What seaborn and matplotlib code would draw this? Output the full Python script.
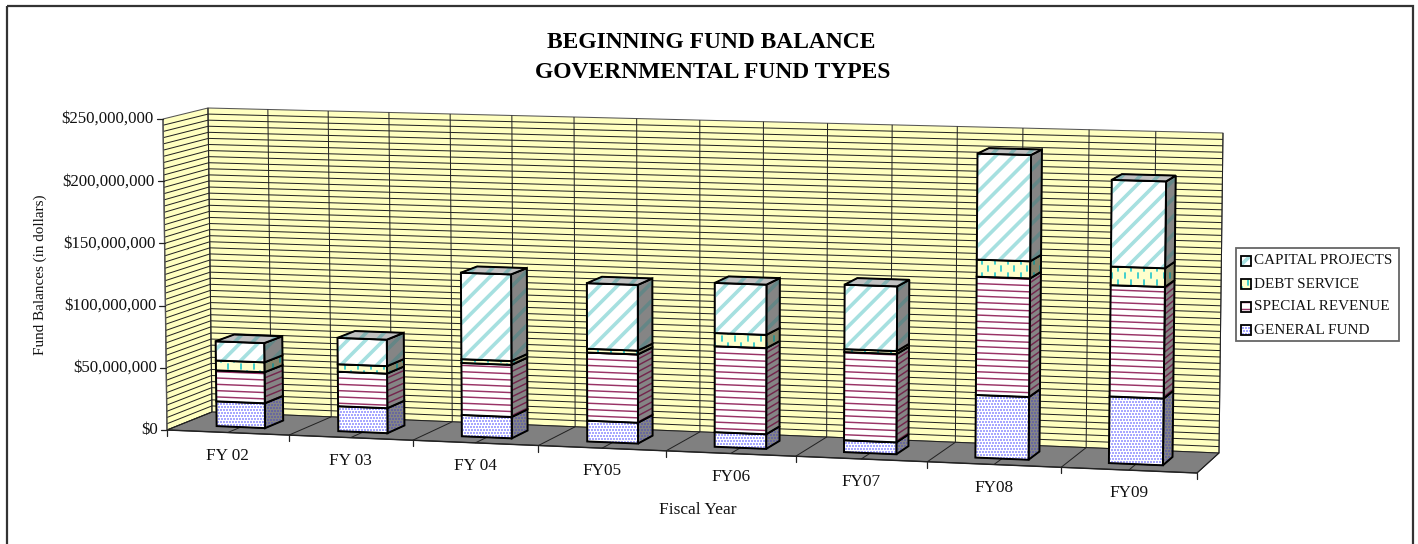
import matplotlib
matplotlib.use("Agg")
import numpy as np
import pandas as pd
import seaborn as sns
from matplotlib import pyplot as plt
from matplotlib.patches import Polygon, Rectangle

years = ["FY 02", "FY 03", "FY 04", "FY05", "FY06", "FY07", "FY08", "FY09"]
general_fund = [20.0, 20.0, 17.0, 16.5, 11.5, 9.3, 48.7, 51.5]
special_revenue = [25.0, 27.7, 41.5, 54.0, 67.7, 69.0, 92.0, 86.0]
debt_service = [8.0, 6.0, 3.0, 3.0, 10.4, 2.3, 13.3, 14.4]
capital_projects = [15.5, 21.2, 69.0, 52.0, 39.5, 50.5, 82.5, 67.0]
series_names = ["GENERAL FUND", "SPECIAL REVENUE", "DEBT SERVICE", "CAPITAL PROJECTS"]
y_ticks = [0, 50, 100, 150, 200, 250]
y_max = 250

df = pd.DataFrame(
    dict(zip(series_names, [general_fund, special_revenue, debt_service, capital_projects])),
    index=years,
)

# corners of the 3d box in pixels: (right, top, back)
corners = {
    (0, 0, 0): (167, 430),
    (1, 0, 0): (1197, 473),
    (0, 1, 0): (163, 119),
    (1, 1, 0): (1201, 146),
    (0, 0, 1): (212, 412),
    (1, 0, 1): (1219, 453),
    (0, 1, 1): (208, 108),
    (1, 1, 1): (1223, 133),
}
SKEW = -0.06


def project(cat, value, depth):
    u = cat / len(years)
    s = (1 + SKEW) * u / (1 + SKEW * u)
    t = value / y_max
    x, y = 0.0, 0.0
    for (a, b, c), (px, py) in corners.items():
        w = (s if a else 1 - s) * (t if b else 1 - t) * (depth if c else 1 - depth)
        x += w * px
        y += w * py
    return x, y


sns.set_theme(style="white")
plt.rcParams["font.family"] = ["Liberation Serif", "DejaVu Serif"]
fig, ax = plt.subplots(figsize=(14.18, 5.44), dpi=100)
ax.set_position([0, 0, 1, 1])
ax.set_xlim(0, 1418)
ax.set_ylim(544, 0)
ax.axis("off")

ax.add_patch(Rectangle((7, 6), 1406, 560, fill=False, ec="#333333", lw=1.6))

WALL = "#FFFFC0"
GRID = "#222222"
TEXT = "#111111"
ncat = len(years)


def face(points, color, z, edge="black", lw=0.75):
    p = Polygon(points, closed=True, fc=color, ec=edge, lw=lw, zorder=z, joinstyle="round")
    ax.add_patch(p)
    return p


def line(a, b, z=1, color=GRID, lw=0.72):
    ax.plot([a[0], b[0]], [a[1], b[1]], color=color, lw=lw, zorder=z, solid_capstyle="butt")


# walls and floor
face([project(0, 0, 0), project(0, y_max, 0), project(0, y_max, 1), project(0, 0, 1)], WALL, 1, "#555555")
face([project(0, 0, 1), project(0, y_max, 1), project(ncat, y_max, 1), project(ncat, 0, 1)], WALL, 1, "#555555")
face([project(0, 0, 0), project(ncat, 0, 0), project(ncat, 0, 1), project(0, 0, 1)], "#808080", 1, "#222222")

for v in np.arange(5, y_max, 5):
    line(project(0, v, 0), project(0, v, 1), 2)
    line(project(0, v, 1), project(ncat, v, 1), 2)
for c in np.arange(0, ncat + 0.5, 0.5):
    line(project(c, 0, 1), project(c, y_max, 1), 2)
    line(project(c, 0, 0), project(c, 0, 1), 2)

# axis ticks and labels
line(project(0, 0, 0), project(0, y_max, 0), 3, "#555555", 1.0)
line(project(0, 0, 0), project(ncat, 0, 0), 3, "#222222", 1.0)
for v in y_ticks:
    x, y = project(0, v, 0)
    ax.plot([x - 6, x], [y, y], color="#222222", lw=0.9, zorder=3)
    ax.text(x - 9, y, f"${v * 1000000:,}", ha="right", va="center", fontsize=12.2, color=TEXT)
for c in range(ncat + 1):
    x, y = project(c, 0, 0)
    ax.plot([x, x], [y, y + 6], color="#222222", lw=0.9, zorder=3)
for c, name in enumerate(years):
    x, y = project(c + 0.5, 0, 0)
    ax.text(x, y + 23, name, ha="center", va="center", fontsize=12.4, color=TEXT)

ax.text(711, 43, "BEGINNING FUND BALANCE", ha="center", va="center", fontsize=16.9, fontweight="bold", color="black")
ax.text(713, 72, "GOVERNMENTAL FUND TYPES", ha="center", va="center", fontsize=16.9, fontweight="bold", color="black")
ax.text(40, 275, "Fund Balances (in dollars)", rotation=90, ha="center", va="center", fontsize=10.9, color=TEXT)
ax.text(698, 510, "Fiscal Year", ha="center", va="center", fontsize=12.5, color=TEXT)

styles = {
    "GENERAL FUND": ("dots", "#FFFFFF", "#A8A8FF"),
    "SPECIAL REVENUE": ("lines", "#FFFFFF", "#993366"),
    "DEBT SERVICE": ("dashes", "#FFFFCC", "#33CCCC"),
    "CAPITAL PROJECTS": ("diag", "#FFFFFF", "#A6E0E0"),
}


def shade(color, k):
    r, g, b = matplotlib.colors.to_rgb(color)
    return (r * k, g * k, b * k)


def texture(patch, kind, color, z, slope=0.0):
    (x0, y0), (x1, y1) = patch.get_path().get_extents().get_points()
    artists = []
    if kind == "lines":
        for y in np.arange(np.floor(y0 / 6.3) * 6.3 - 6.3, y1 + 6.3, 6.3):
            artists += ax.plot([x0, x1], [y, y + slope * (x1 - x0)], color=color, lw=1.05, zorder=z)
    elif kind == "diag":
        h = y1 - y0
        for x in np.arange(np.floor(x0 / 18) * 18 - 18, x1 + h + 38, 18):
            artists += ax.plot([x, x - h - 20], [y0 - 10, y1 + 10], color=color, lw=2.6, zorder=z)
    elif kind == "dashes":
        for i, x in enumerate(np.arange(np.floor(x0 / 6.5) * 6.5, x1 + 6.5, 6.5)):
            for y in np.arange(np.floor(y0 / 14) * 14 + (i % 2) * 7, y1 + 14, 14):
                artists += ax.plot([x, x], [y, y + 5], color=color, lw=1.3, zorder=z)
    else:
        xs, ys = np.meshgrid(np.arange(x0, x1 + 3, 3.0), np.arange(y0, y1 + 3, 3.0))
        xs = xs + (np.arange(xs.shape[0])[:, None] % 2) * 1.5
        artists.append(ax.scatter(xs.ravel(), ys.ravel(), s=1.4, marker="s", color=color, linewidths=0, zorder=z))
    for a in artists:
        a.set_clip_path(patch)


BAR_L, BAR_R, BAR_F, BAR_B = 0.3, 0.7, 0.3, 0.72
SIDE_TINT = {"GENERAL FUND": 0.62, "SPECIAL REVENUE": 0.75, "DEBT SERVICE": 0.7, "CAPITAL PROJECTS": 0.6}

# bars drawn left to right, bottom to top
for c, year in enumerate(years):
    base = 100 + c * 10
    bottom = 0.0
    vals = df.loc[year]
    for k, name in enumerate(series_names):
        top = bottom + vals[name]
        kind, bg, fg = styles[name]
        z = base + k
        left, right = c + BAR_L, c + BAR_R
        front = [project(left, bottom, BAR_F), project(right, bottom, BAR_F),
                 project(right, top, BAR_F), project(left, top, BAR_F)]
        side = [project(right, bottom, BAR_F), project(right, bottom, BAR_B),
                project(right, top, BAR_B), project(right, top, BAR_F)]
        p = face(side, shade(bg, 0.52), z)
        slope = (side[1][1] - side[0][1]) / (side[1][0] - side[0][0])
        texture(p, kind, shade(fg, SIDE_TINT[name]), z + 0.1, slope)
        ax.add_patch(Polygon(side, closed=True, fill=False, ec="black", lw=1.4, zorder=z + 0.2))
        p = face(front, bg, z + 0.3)
        slope = (front[1][1] - front[0][1]) / (front[1][0] - front[0][0])
        texture(p, kind, fg, z + 0.4, slope)
        ax.add_patch(Polygon(front, closed=True, fill=False, ec="black", lw=1.4, zorder=z + 0.5))
        if k == len(series_names) - 1:
            lid = [project(left, top, BAR_F), project(right, top, BAR_F),
                   project(right, top, BAR_B), project(left, top, BAR_B)]
            p = face(lid, "#C0C0C0", z + 0.6)
            texture(p, kind, shade(fg, 0.8), z + 0.7)
            ax.add_patch(Polygon(lid, closed=True, fill=False, ec="black", lw=1.4, zorder=z + 0.8))
        bottom = top

# legend
ax.add_patch(Rectangle((1236, 248), 163, 93, fc="white", ec="#666666", lw=1.3, zorder=200))
for i, name in enumerate(reversed(series_names)):
    y = 261 + i * 23
    kind, bg, fg = styles[name]
    p = Polygon([(1241, y - 5), (1251, y - 5), (1251, y + 5), (1241, y + 5)], closed=True, fc=bg, ec="none", zorder=201)
    ax.add_patch(p)
    texture(p, kind, fg, 202)
    ax.add_patch(Rectangle((1241, y - 5), 10, 10, fill=False, ec="black", lw=1.3, zorder=203))
    ax.text(1254, y, name, ha="left", va="center", fontsize=10.9, color=TEXT, zorder=203)

fig.savefig("out.png", dpi=100)
